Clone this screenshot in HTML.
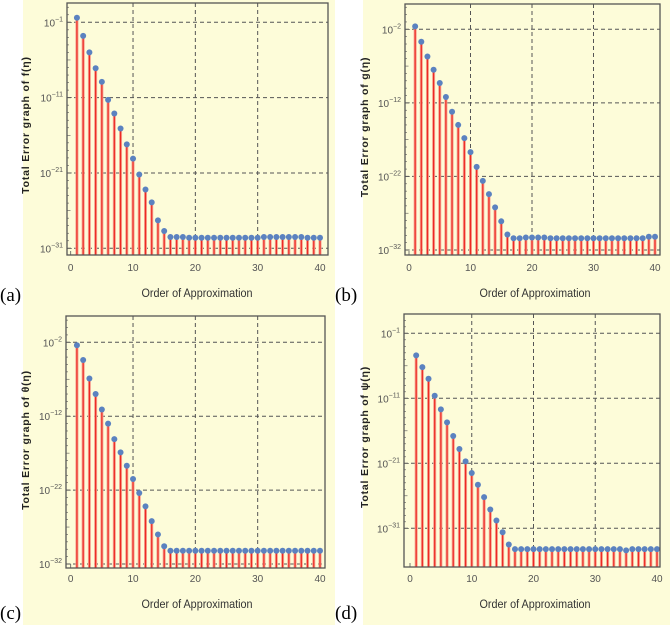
<!DOCTYPE html>
<html><head><meta charset="utf-8"><style>
html,body{margin:0;padding:0;background:#fff;}
svg{display:block;}
text{font-family:"Liberation Sans",sans-serif;}
text.serif{font-family:"Liberation Serif",serif;}
</style></head><body>
<svg id="fig" width="670" height="625" viewBox="0 0 670 625"></svg>
<script>
const orders = [1,2,3,4,5,6,7,8,9,10,11,12,13,14,15,16,17,18,19,20,21,22,23,24,25,26,27,28,29,30,31,32,33,34,35,36,37,38,39,40];
const xTicks = [0,10,20,30,40];
// log10 of total error
const errF = [-0.4,-2.8,-5.0,-7.1,-8.9,-11.3,-13.1,-15.1,-17.2,-19.1,-21.2,-23.2,-24.9,-27.3,-28.7,-29.5,-29.5,-29.5,-29.6,-29.6,-29.6,-29.6,-29.6,-29.6,-29.6,-29.6,-29.6,-29.6,-29.6,-29.6,-29.5,-29.5,-29.5,-29.5,-29.5,-29.5,-29.5,-29.6,-29.6,-29.6];
const errG = [-1.6,-3.7,-5.7,-7.5,-9.3,-11.2,-13.2,-15.0,-16.8,-18.7,-20.7,-22.6,-24.4,-26.2,-28.1,-29.9,-30.4,-30.4,-30.3,-30.3,-30.3,-30.3,-30.4,-30.4,-30.4,-30.4,-30.4,-30.4,-30.4,-30.4,-30.4,-30.4,-30.4,-30.4,-30.4,-30.4,-30.4,-30.4,-30.2,-30.2];
const errTheta = [-2.4,-4.4,-6.9,-9.0,-11.1,-13.0,-15.1,-16.9,-18.7,-20.5,-22.4,-24.2,-26.2,-28.0,-29.6,-30.2,-30.2,-30.2,-30.2,-30.2,-30.2,-30.2,-30.2,-30.2,-30.2,-30.2,-30.2,-30.2,-30.2,-30.2,-30.2,-30.2,-30.2,-30.2,-30.2,-30.2,-30.2,-30.2,-30.2,-30.2];
const errPhi = [-4.4,-6.2,-8.0,-10.6,-12.7,-14.7,-16.8,-18.8,-20.7,-22.5,-24.3,-26.2,-28.1,-29.8,-31.6,-33.5,-34.2,-34.2,-34.2,-34.2,-34.2,-34.2,-34.2,-34.2,-34.2,-34.2,-34.2,-34.2,-34.2,-34.2,-34.2,-34.2,-34.2,-34.2,-34.4,-34.2,-34.2,-34.2,-34.2,-34.2];
const yTicksA = [-1,-11,-21,-31];
const yTicksB = [-2,-12,-22,-32];
const yTicksC = [-2,-12,-22,-32];
const yTicksD = [-1,-11,-21,-31];

const NS="http://www.w3.org/2000/svg";
const svg=document.getElementById('fig');
function mk(tag,attrs,parent){const e=document.createElementNS(NS,tag);for(const k in attrs)e.setAttribute(k,attrs[k]);(parent||svg).appendChild(e);return e;}

const panels=[
 {id:'a',vals:errF,ticks:yTicksA,fn:'f',bg:[23,0,312,310],fr:[67,3,328,255],x0:70.7,x40:320,t1:22.3,t2:248.3,yl:[29,125],xtY:271,xtitle:[197,297],lab:[0,301]},
 {id:'b',vals:errG,ticks:yTicksB,fn:'g',bg:[363,0,307,310],fr:[405,4,660,255],x0:409,x40:655,t1:29.3,t2:250,yl:[368,127],xtY:271,xtitle:[535,297],lab:[335,301]},
 {id:'c',vals:errTheta,ticks:yTicksC,fn:'θ',bg:[23,310,312,315],fr:[66,316,325,568],x0:70.7,x40:320,t1:342.3,t2:564,yl:[29,440],xtY:582,xtitle:[197,608],lab:[0,619]},
 {id:'d',vals:errPhi,ticks:yTicksD,fn:'ψ',bg:[363,310,307,315],fr:[404,314,660,567],x0:410,x40:657,t1:333.3,t2:528.3,yl:[368,437],xtY:582,xtitle:[535,608],lab:[335,619]}
];

panels.forEach(p=>{
 const g=mk('g',{});
 
 
 const bg=mk('rect',{x:p.bg[0],y:p.bg[1],width:p.bg[2],height:p.bg[3],fill:'#fdfcd9'},g);
 
 
 const [L,T,R,B]=p.fr;
 const xs=v=>p.x0+(v-0)*(p.x40-p.x0)/40;
 const lo=p.ticks[0], hi=p.ticks[p.ticks.length-1];
 const ys=v=>p.t1+(lo-v)*(p.t2-p.t1)/(lo-hi);
 xTicks.forEach(t=>{
  if(t>0&&t<40){const l=mk('line',{x1:xs(t),x2:xs(t),y1:T,y2:B,stroke:'#555','stroke-width':1,'stroke-dasharray':'4,3'},g);
  }
 });
 p.ticks.forEach(t=>{
  const l=mk('line',{x1:L,x2:R,y1:ys(t),y2:ys(t),stroke:'#555','stroke-width':1,'stroke-dasharray':'4,3'},g);
  
  const tx=mk('text',{x:L-4,y:ys(t)+4,'text-anchor':'end','font-size':10,fill:'#555'},g);
  
  tx.textContent='10';
  const s=mk('tspan',{dy:-5,'font-size':7},tx);s.textContent='−'+Math.abs(t);
 });
 for(let t=Math.ceil(hi); t<=Math.floor(lo)+4; t++){
  const yy=ys(t); if(yy<T||yy>B) continue;
  const major=p.ticks.includes(t);
  const len=major?5:(((t-lo)%5===0)?3.5:2);
  const m=mk('line',{x1:L,x2:L+len,y1:yy,y2:yy,stroke:'#555','stroke-width':0.6},g);
  
 }
 xTicks.forEach(t=>{
  const tx=mk('text',{x:xs(t),y:p.xtY,'text-anchor':'middle','font-size':10,fill:'#555'},g);
  
  tx.textContent=t;
  const m=mk('line',{x1:xs(t),x2:xs(t),y1:B,y2:B-4,stroke:'#555','stroke-width':0.8},g);
  
 });
 orders.forEach((o,i)=>{
  const x=xs(o),y=ys(p.vals[i]);
  const sh=mk('line',{x1:x,x2:x,y1:y,y2:B,stroke:'#f8a090','stroke-width':3},g);
  
  const st=mk('line',{x1:x,x2:x,y1:y,y2:B,stroke:'#ec2a22','stroke-width':1.2},g);
  
 });
 orders.forEach((o,i)=>{
  const c=mk('circle',{cx:xs(o),cy:ys(p.vals[i]),r:3,fill:'#5b82c0'},g);
  
 });
 const fr=mk('rect',{x:L,y:T,width:R-L,height:B-T,fill:'none',stroke:'#555','stroke-width':1.3},g);
 
 const yl=mk('text',{x:p.yl[0],y:p.yl[1],'text-anchor':'middle','font-size':10.5,'font-weight':'bold',fill:'#222',transform:'rotate(-90 '+p.yl[0]+' '+p.yl[1]+')','letter-spacing':'0.8'},g);
 
 yl.textContent='Total Error graph of  '+p.fn+'(η)';
 const xt=mk('text',{x:p.xtitle[0],y:p.xtitle[1],'text-anchor':'middle','font-size':12,fill:'#333',transform:'scale(0.9,1)','transform-origin':p.xtitle[0]+' '+p.xtitle[1]},g);
 
 xt.textContent='Order of Approximation';
 const lb=mk('text',{x:p.lab[0],y:p.lab[1],'font-size':19,fill:'#000','class':'serif'},g);
 
 lb.textContent='('+p.id+')';
});
</script>
</body></html>
